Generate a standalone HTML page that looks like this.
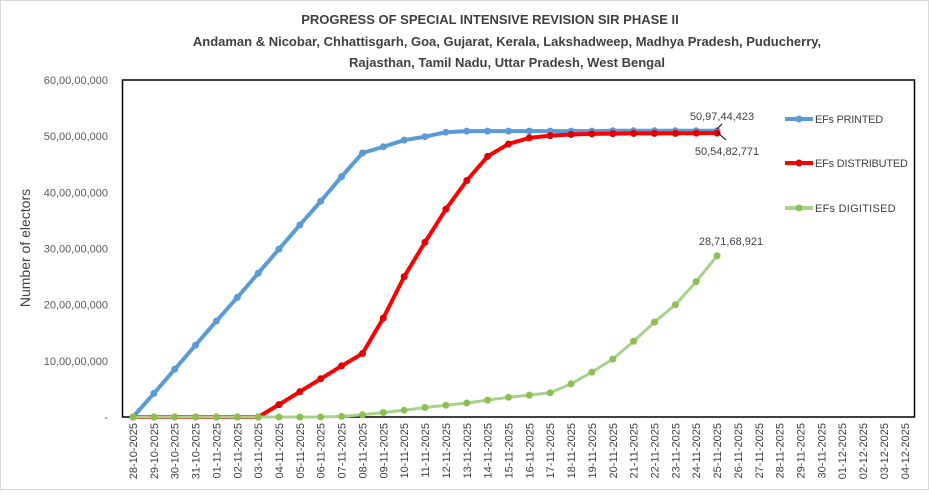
<!DOCTYPE html>
<html><head><meta charset="utf-8"><style>
html,body{margin:0;padding:0;background:#fff;}
body{width:929px;height:490px;overflow:hidden;font-family:"Liberation Sans",sans-serif;}
</style></head><body>
<svg id="s" width="929" height="490" xmlns="http://www.w3.org/2000/svg" font-family="Liberation Sans, sans-serif">
<rect x="0.5" y="0.5" width="928" height="489" fill="#fff" stroke="#d9d9d9"/>
<text x="490" y="24" text-anchor="middle" font-size="13" font-weight="bold" fill="#404040">PROGRESS OF SPECIAL INTENSIVE REVISION SIR PHASE II</text>
<text x="507" y="46" text-anchor="middle" font-size="13" font-weight="bold" fill="#404040">Andaman &amp; Nicobar, Chhattisgarh, Goa, Gujarat, Kerala, Lakshadweep, Madhya Pradesh, Puducherry,</text>
<text x="507" y="67" text-anchor="middle" font-size="13" font-weight="bold" fill="#404040">Rajasthan, Tamil Nadu, Uttar Pradesh, West Bengal</text>
<rect x="122.5" y="80" width="792" height="337" fill="none" stroke="#000" stroke-width="1.5"/>
<text transform="translate(30,248) rotate(-90)" text-anchor="middle" font-size="14" fill="#404040">Number of electors</text>
<g id="g"></g>
</svg>
<script>
var g=document.getElementById('g'),h='';
var X=function(i){return 133+i*20.86;},Y=function(v){return 417-v*337/60;};
var yl=['-','10,00,00,000','20,00,00,000','30,00,00,000','40,00,00,000','50,00,00,000','60,00,00,000'];
for(var k=0;k<7;k++){h+='<text x="108" y="'+(Y(k*10)+4)+'" text-anchor="end" font-size="11" fill="#595959">'+yl[k]+'</text>';}
for(var i=0;i<38;i++){var dd=new Date(2025,9,28+i);var s=('0'+dd.getDate()).slice(-2)+'-'+('0'+(dd.getMonth()+1)).slice(-2)+'-2025';
h+='<text transform="translate('+(X(i)+4)+',423) rotate(-90)" text-anchor="end" font-size="11" fill="#404040">'+s+'</text>';}
var P=[0,4.2,8.5,12.8,17.1,21.3,25.6,29.9,34.2,38.4,42.8,47.0,48.1,49.3,49.9,50.7,50.9,50.9,50.9,50.9,50.9,50.9,50.9,50.95,50.95,50.95,50.95,50.97,50.97];
var D=[0,0,0,0,0,0,0,2.2,4.5,6.8,9.1,11.3,17.6,25.0,31.1,37.0,42.1,46.4,48.6,49.7,50.1,50.3,50.4,50.45,50.5,50.5,50.5,50.55,50.55];
var G=[0,0,0,0,0,0,0,0,0,0,0.1,0.4,0.8,1.2,1.7,2.1,2.5,3.0,3.5,3.9,4.3,5.9,8.0,10.3,13.5,16.9,20.0,24.1,28.7];
function ser(a,c,m,w,r){var p=a.map(function(v,i){return X(i).toFixed(1)+','+Y(v).toFixed(1);}).join(' ');
var o='<polyline points="'+p+'" fill="none" stroke="'+c+'" stroke-width="'+w+'" stroke-linejoin="round"/>';
a.forEach(function(v,i){o+='<circle cx="'+X(i).toFixed(1)+'" cy="'+Y(v).toFixed(1)+'" r="'+r+'" fill="'+m+'"/>';});return o;}
h+=ser(P,'#5b9bd5','#5b9bd5',4,3.5)+ser(D,'#ff0000','#e00000',4,3.5)+ser(G,'#a9d18e','#8cc152',3,3.5);
h+='<path d="M717,129 L722,124 M717,132 L726,140" stroke="#000" stroke-width="1"/>';
h+='<text x="722" y="120" text-anchor="middle" font-size="11" fill="#404040">50,97,44,423</text>';
h+='<text x="727" y="155" text-anchor="middle" font-size="11" fill="#404040">50,54,82,771</text>';
h+='<text x="731" y="245" text-anchor="middle" font-size="11" fill="#404040">28,71,68,921</text>';
var L=[['#5b9bd5','#5b9bd5','EFs PRINTED',119],['#ff0000','#e00000','EFs DISTRIBUTED',163],['#a9d18e','#8cc152','EFs DIGITISED',208]];
L.forEach(function(l){h+='<line x1="785" y1="'+l[3]+'" x2="813" y2="'+l[3]+'" stroke="'+l[0]+'" stroke-width="4"/><circle cx="799" cy="'+l[3]+'" r="3.5" fill="'+l[1]+'"/><text x="815" y="'+(l[3]+4)+'" font-size="11" fill="#404040" textLength="'+(l[2].length*6.2)+'">'+l[2]+'</text>';});
g.innerHTML=h;
</script>
</body></html>
